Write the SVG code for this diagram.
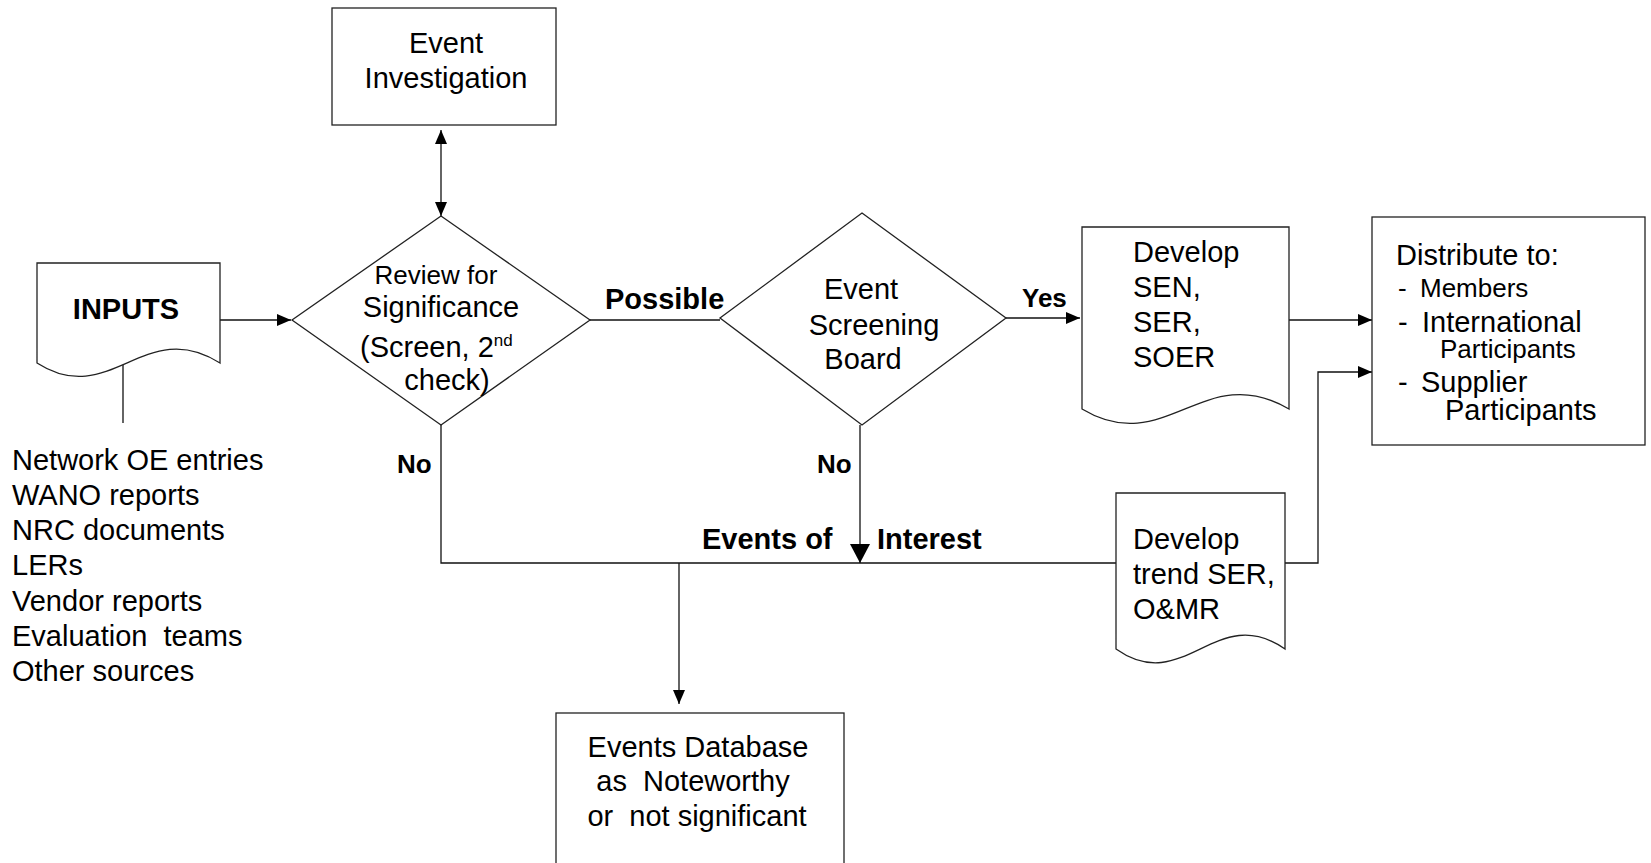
<svg xmlns="http://www.w3.org/2000/svg" width="1651" height="863" viewBox="0 0 1651 863">
<defs>
<style>
.shape{fill:#fff;stroke:#222;stroke-width:1.3}
.line{fill:none;stroke:#111;stroke-width:1.3}
text{font-family:"Liberation Sans",Arial,sans-serif;fill:#000}
.t{font-size:29px}
.s{font-size:26px}
.b{font-size:29px;font-weight:bold}
.bs{font-size:26px;font-weight:bold}
.m{text-anchor:middle}
</style>
<marker id="arr" markerUnits="userSpaceOnUse" markerWidth="15" markerHeight="13" refX="14" refY="6.5" orient="auto-start-reverse" viewBox="0 0 15 13">
<path d="M0,0.5 L14,6.5 L0,12.5 Z" fill="#000"/>
</marker>
<marker id="big" markerUnits="userSpaceOnUse" markerWidth="20" markerHeight="21" refX="19" refY="10.5" orient="auto" viewBox="0 0 20 21">
<path d="M0,0.5 L19,10.5 L0,20.5 Z" fill="#000"/>
</marker>
</defs>
<rect width="1651" height="863" fill="#fff"/>

<g id="connectors">
<path class="line" d="M123,362 V423"/>
<path class="line" d="M216,320 H291" marker-end="url(#arr)"/>
<path class="line" d="M441,130 V216" marker-start="url(#arr)" marker-end="url(#arr)"/>
<path class="line" d="M590,320 H720"/>
<path class="line" d="M1006,318 H1080" marker-end="url(#arr)"/>
<path class="line" d="M441,425 V563 H1116"/>
<path class="line" d="M860,425 V563" marker-end="url(#big)"/>
<path class="line" d="M679,563 V704" marker-end="url(#arr)"/>
<path class="line" d="M1289,320 H1372" marker-end="url(#arr)"/>
<path class="line" d="M1285,563 H1318 V372 H1372" marker-end="url(#arr)"/>
</g>

<g id="labels">
<text class="b" x="605" y="309">Possible</text>
<text class="bs" x="1022" y="307">Yes</text>
<text class="bs" x="397" y="473">No</text>
<text class="bs" x="817" y="473">No</text>
<text class="b" x="702" y="549">Events of</text>
<text class="b" x="877" y="549">Interest</text>
</g>

<g id="inputs">
<path class="shape" d="M37,263 H220 V363 C145,315 110,410 37,363 Z"/>
<text class="b m" x="126" y="319">INPUTS</text>
</g>

<g id="input-sources">
<text class="t" x="12" y="470">Network OE entries</text>
<text class="t" x="12" y="505">WANO reports</text>
<text class="t" x="12" y="540">NRC documents</text>
<text class="t" x="12" y="575">LERs</text>
<text class="t" x="12" y="611">Vendor reports</text>
<text class="t" x="12" y="646" xml:space="preserve">Evaluation  teams</text>
<text class="t" x="12" y="681">Other sources</text>
</g>

<g id="event-investigation">
<rect class="shape" x="332" y="8" width="224" height="117"/>
<text class="t m" x="446" y="53">Event</text>
<text class="t m" x="446" y="88">Investigation</text>
</g>

<g id="review">
<path class="shape" d="M441,216 L590,320 L441,425 L292,320 Z"/>
<text class="s m" x="436" y="284">Review for</text>
<text class="t m" x="441" y="317">Significance</text>
<text class="t" x="360" y="357">(Screen, 2<tspan font-size="17" dy="-11">nd</tspan></text>
<text class="t m" x="447" y="390">check)</text>
</g>

<g id="screening-board">
<path class="shape" d="M862,213 L1006,318 L862,425 L720,318 Z"/>
<text class="t m" x="861" y="299">Event</text>
<text class="t m" x="874" y="335">Screening</text>
<text class="t m" x="863" y="369">Board</text>
</g>

<g id="develop-sen">
<path class="shape" d="M1082,227 H1289 V409 C1204,359 1165,459 1082,409 Z"/>
<text class="t" x="1133" y="262">Develop</text>
<text class="t" x="1133" y="297">SEN,</text>
<text class="t" x="1133" y="332">SER,</text>
<text class="t" x="1133" y="367">SOER</text>
</g>

<g id="develop-trend">
<path class="shape" d="M1116,493 H1285 V649 C1216,601 1184,697 1116,649 Z"/>
<text class="t" x="1133" y="549">Develop</text>
<text class="t" x="1133" y="584">trend SER,</text>
<text class="t" x="1133" y="619">O&amp;MR</text>
</g>

<g id="distribute">
<rect class="shape" x="1372" y="217" width="273" height="228"/>
<text class="t" x="1396" y="265">Distribute to:</text>
<text class="s" x="1398" y="297">-</text>
<text class="s" x="1420" y="297">Members</text>
<text class="t" x="1398" y="332">-</text>
<text class="t" x="1422" y="332">International</text>
<text class="s" x="1440" y="358">Participants</text>
<text class="t" x="1398" y="392">-</text>
<text class="t" x="1421" y="392">Supplier</text>
<text class="t" x="1445" y="420">Participants</text>
</g>

<g id="events-database">
<rect class="shape" x="556" y="713" width="288" height="170"/>
<text class="t m" x="698" y="757">Events Database</text>
<text class="t m" x="693" y="791" xml:space="preserve">as  Noteworthy</text>
<text class="t m" x="697" y="826" xml:space="preserve">or  not significant</text>
</g>
</svg>
